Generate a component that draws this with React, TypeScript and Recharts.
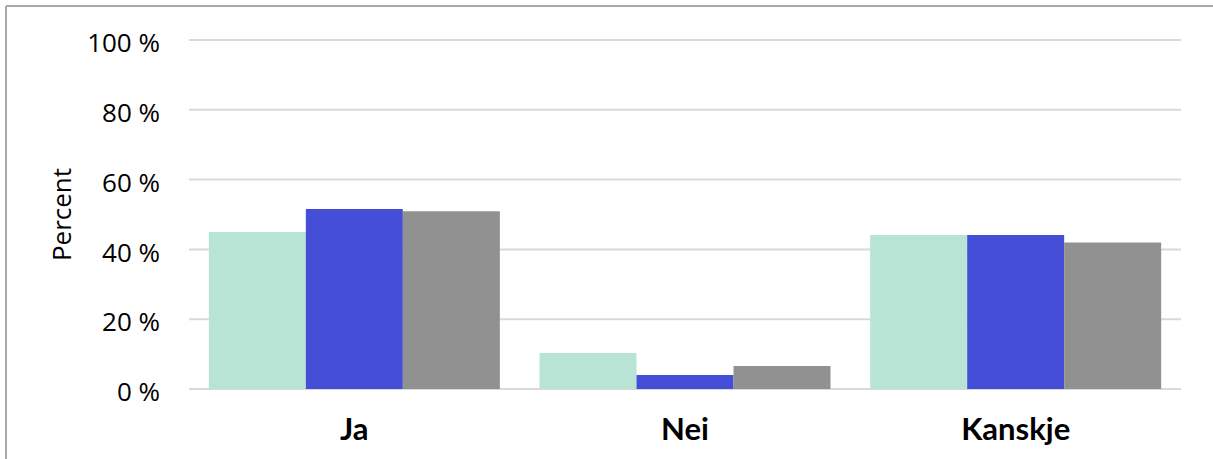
import React from "react";
import { BarChart, Bar, XAxis, YAxis, CartesianGrid } from "recharts";

const categories = ["Ja", "Nei", "Kanskje"];
const series1 = [45.0, 10.3, 44.1];
const series2 = [51.6, 4.0, 44.1];
const series3 = [50.9, 6.6, 42.0];
const yTicks = [0, 20, 40, 60, 80, 100];

const data = categories.map((c, i) => ({
  name: c,
  s1: series1[i],
  s2: series2[i],
  s3: series3[i],
}));

export default function App() {
  return (
    <div
      style={{
        position: "fixed",
        left: 0,
        top: 0,
        width: 1213,
        height: 459,
        overflow: "hidden",
        background: "#ffffff",
      }}
    >
      <style>{"html,body{overflow:hidden;margin:0;}"}</style>
      <svg
        width={1213}
        height={459}
        style={{ position: "absolute", left: 0, top: 0 }}
      >
        <line x1={6} y1={6} x2={1213} y2={6} stroke="#a9a9a9" strokeWidth={2} />
        <line x1={6} y1={6} x2={6} y2={459} stroke="#a9a9a9" strokeWidth={2} />
      </svg>
      <div style={{ position: "absolute", left: 0, top: 0 }}>
        <BarChart
          width={1213}
          height={459}
          data={data}
          margin={{ top: 40, right: 32, bottom: 0, left: 0 }}
          barCategoryGap="6%"
          barGap={0}
        >
          <CartesianGrid
            horizontal={true}
            vertical={false}
            stroke="#d9d9d9"
            strokeWidth={2}
          />
          <XAxis
            dataKey="name"
            axisLine={false}
            tickLine={false}
            tickSize={0}
            tickMargin={29}
            height={70}
            tick={{
              fill: "#000000",
              fontFamily: "Lato",
              fontWeight: 700,
              fontSize: 31,
            }}
          />
          <YAxis
            domain={[0, 100]}
            ticks={yTicks}
            interval={0}
            width={189}
            axisLine={false}
            tickLine={false}
            tickSize={0}
            tickMargin={29}
            tickFormatter={(v: number) => `${v} %`}
            tick={{ fill: "#000000", fontFamily: "Open Sans", fontSize: 26, dy: 3 }}
            label={{
              value: "Percent",
              angle: -90,
              position: "insideLeft",
              dx: 57,
              style: {
                textAnchor: "middle",
                fill: "#000000",
                fontFamily: "Open Sans",
                fontSize: 26,
              },
            }}
          />
          <Bar dataKey="s1" fill="#b7e4d5" isAnimationActive={false} />
          <Bar dataKey="s2" fill="#444ed6" isAnimationActive={false} />
          <Bar dataKey="s3" fill="#919191" isAnimationActive={false} />
        </BarChart>
      </div>
    </div>
  );
}
